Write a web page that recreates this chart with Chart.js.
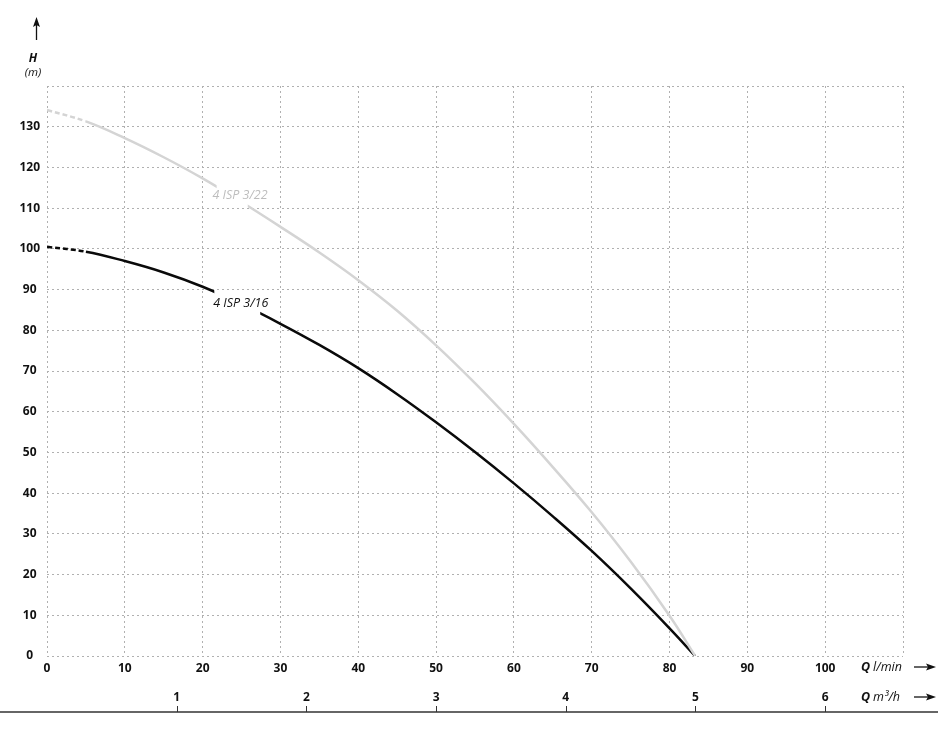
<!DOCTYPE html>
<html><head><meta charset="utf-8">
<script src="https://cdn.jsdelivr.net/npm/chart.js@4/dist/chart.umd.min.js"></script>
<style>html,body{margin:0;padding:0;background:#fff}#wrap{width:952px;height:732px;position:relative}</style>
</head><body><div id="wrap"><canvas id="c" width="952" height="732"></canvas></div>
<script>
// ---- data ----
const seriesNames = ['4 ISP 3/22', '4 ISP 3/16'];
const flowLpm = [0, 5, 10, 15, 20, 25, 30, 35, 40, 45, 50, 55, 60, 65, 70, 75, 80, 83.3];
const head322 = [134.1, 131.3, 127.2, 122.5, 117.3, 111.5, 105.4, 99.1, 92.3, 84.8, 76.3, 67.0, 57.0, 46.4, 35.3, 23.2, 9.9, 0];
const head316 = [100.5, 99.3, 97.0, 94.2, 90.7, 86.4, 81.6, 76.4, 70.7, 64.3, 57.4, 50.1, 42.4, 34.3, 25.8, 16.6, 6.8, 0];
const lpmTicks = [0, 10, 20, 30, 40, 50, 60, 70, 80, 90, 100];
const m3hTicks = [1, 2, 3, 4, 5, 6];
const headTicks = [0, 10, 20, 30, 40, 50, 60, 70, 80, 90, 100, 110, 120, 130];
const lpmPerM3h = 1000 / 60;
const flowMax = 110, headMax = 140;

// ---- styles ----
const styles = [
  {color: '#d4d4d4', labelColor: '#bdbdbd', gapX: [21.8, 25.8], gapY: [106, 120], label: [24.8, 113]},
  {color: '#0a0a0a', labelColor: '#111', gapX: [21.5, 27.4], gapY: [80, 94], label: [24.9, 86.7]}
];
const tickFont = {family: "'Open Sans', sans-serif", size: 12, weight: 'bold'};
const gridColor = '#b0b0b0';

function pts(xs, ys) { return xs.map((x, i) => ({x, y: ys[i]})); }

const labelGap = {
  id: 'labelGap',
  beforeDatasetDraw(chart, args) {
    const st = styles[args.index], xs = chart.scales.x, ys = chart.scales.y, ca = chart.chartArea, ctx = chart.ctx;
    ctx.save();
    ctx.beginPath();
    ctx.rect(ca.left - 5, ca.top - 5, ca.right - ca.left + 10, ca.bottom - ca.top + 10);
    const x0 = xs.getPixelForValue(st.gapX[0]), x1 = xs.getPixelForValue(st.gapX[1]);
    const y0 = ys.getPixelForValue(st.gapY[1]), y1 = ys.getPixelForValue(st.gapY[0]);
    ctx.rect(x0, y0, x1 - x0, y1 - y0);
    ctx.clip('evenodd');
  },
  afterDatasetDraw(chart) { chart.ctx.restore(); }
};

const decor = {
  id: 'decor',
  afterDraw(chart) {
    const ctx = chart.ctx, xs = chart.scales.x, ys = chart.scales.y, x2 = chart.scales.x2;
    ctx.save();
    // curve labels
    ctx.font = "italic 12.5px 'Open Sans', sans-serif";
    ctx.textAlign = 'center'; ctx.textBaseline = 'middle';
    styles.forEach((st, i) => {
      ctx.fillStyle = st.labelColor;
      ctx.fillText(seriesNames[i], xs.getPixelForValue(st.label[0]), ys.getPixelForValue(st.label[1]));
    });
    // bottom baseline with m3/h tick marks
    ctx.strokeStyle = '#333'; ctx.lineWidth = 1.3;
    ctx.beginPath(); ctx.moveTo(0, 712); ctx.lineTo(938, 712); ctx.stroke();
    ctx.lineWidth = 1;
    m3hTicks.forEach(v => {
      const px = Math.round(x2.getPixelForValue(v)) + 0.5;
      ctx.beginPath(); ctx.moveTo(px, 706); ctx.lineTo(px, 712); ctx.stroke();
    });
    // axis titles
    ctx.fillStyle = '#111'; ctx.textAlign = 'left';
    const qTitle = (y, unit) => {
      ctx.font = "bold italic 12.5px 'Open Sans', sans-serif";
      ctx.fillText('Q', 861, y);
      const w = ctx.measureText('Q').width;
      ctx.font = "italic 12.5px 'Open Sans', sans-serif";
      ctx.fillText(unit, 861 + w + 3, y);
    };
    qTitle(667, 'l/min');
    qTitle(697, 'm³/h');
    // right arrows
    const rArrow = y => {
      ctx.strokeStyle = '#111'; ctx.lineWidth = 1.3;
      ctx.beginPath(); ctx.moveTo(914, y); ctx.lineTo(930, y); ctx.stroke();
      ctx.beginPath(); ctx.moveTo(936, y); ctx.lineTo(926, y - 3.5); ctx.lineTo(928, y); ctx.lineTo(926, y + 3.5); ctx.closePath(); ctx.fill();
    };
    rArrow(667); rArrow(697);
    // H (m)
    ctx.textAlign = 'center';
    ctx.font = "bold italic 12px 'Open Sans', sans-serif";
    ctx.fillText('H', 33, 59);
    ctx.font = "italic 11.5px 'Open Sans', sans-serif";
    ctx.fillText('(m)', 33, 73);
    ctx.strokeStyle = '#111'; ctx.lineWidth = 1.3;
    ctx.beginPath(); ctx.moveTo(36.5, 40); ctx.lineTo(36.5, 24); ctx.stroke();
    ctx.beginPath(); ctx.moveTo(36.5, 17); ctx.lineTo(33, 27); ctx.lineTo(36.5, 25); ctx.lineTo(40, 27); ctx.closePath(); ctx.fill();
    ctx.restore();
  }
};

const dashStart = {borderDash: c => c.p0DataIndex === 0 ? [5, 3] : undefined};

new Chart(document.getElementById('c'), {
  type: 'line',
  data: {
    datasets: [
      {label: seriesNames[0], data: pts(flowLpm, head322), borderColor: styles[0].color, borderWidth: 2.5,
       pointRadius: 0, tension: 0.4, fill: false, segment: dashStart},
      {label: seriesNames[1], data: pts(flowLpm, head316), borderColor: styles[1].color, borderWidth: 2.5,
       pointRadius: 0, tension: 0.4, fill: false, segment: dashStart}
    ]
  },
  options: {
    responsive: false, animation: false, devicePixelRatio: 1,
    layout: {padding: {left: 0, right: 49, top: 86, bottom: 0}},
    plugins: {legend: {display: false}, tooltip: {enabled: false}},
    scales: {
      x: {
        type: 'linear', position: 'bottom', min: 0, max: flowMax,
        afterBuildTicks: s => { s.ticks = lpmTicks.concat([flowMax]).map(v => ({value: v})); },
        ticks: {callback: v => lpmTicks.includes(v) ? v : '', font: tickFont, color: '#111', padding: 5, maxRotation: 0, autoSkip: false},
        grid: {color: gridColor, lineWidth: 1, drawTicks: false},
        border: {display: false, dash: [2, 3]},
        afterFit: s => { s.height = 26; }
      },
      x2: {
        type: 'linear', position: 'bottom', min: 0, max: flowMax / lpmPerM3h,
        afterBuildTicks: s => { s.ticks = m3hTicks.map(v => ({value: v})); },
        ticks: {callback: v => v, font: tickFont, color: '#111', padding: 8, maxRotation: 0, autoSkip: false},
        grid: {drawOnChartArea: false, drawTicks: false},
        border: {display: false},
        afterFit: s => { s.height = 50; }
      },
      y: {
        type: 'linear', min: 0, max: headMax,
        afterBuildTicks: s => { s.ticks = headTicks.concat([headMax]).map(v => ({value: v})); },
        ticks: {callback: v => headTicks.includes(v) ? v : '', font: tickFont, color: '#111', padding: 7, crossAlign: 'center'},
        grid: {color: gridColor, lineWidth: 1, drawTicks: false},
        border: {display: false, dash: [2, 3]},
        afterFit: s => { s.width = 47; }
      }
    }
  },
  plugins: [labelGap, decor]
});
</script></body></html>
